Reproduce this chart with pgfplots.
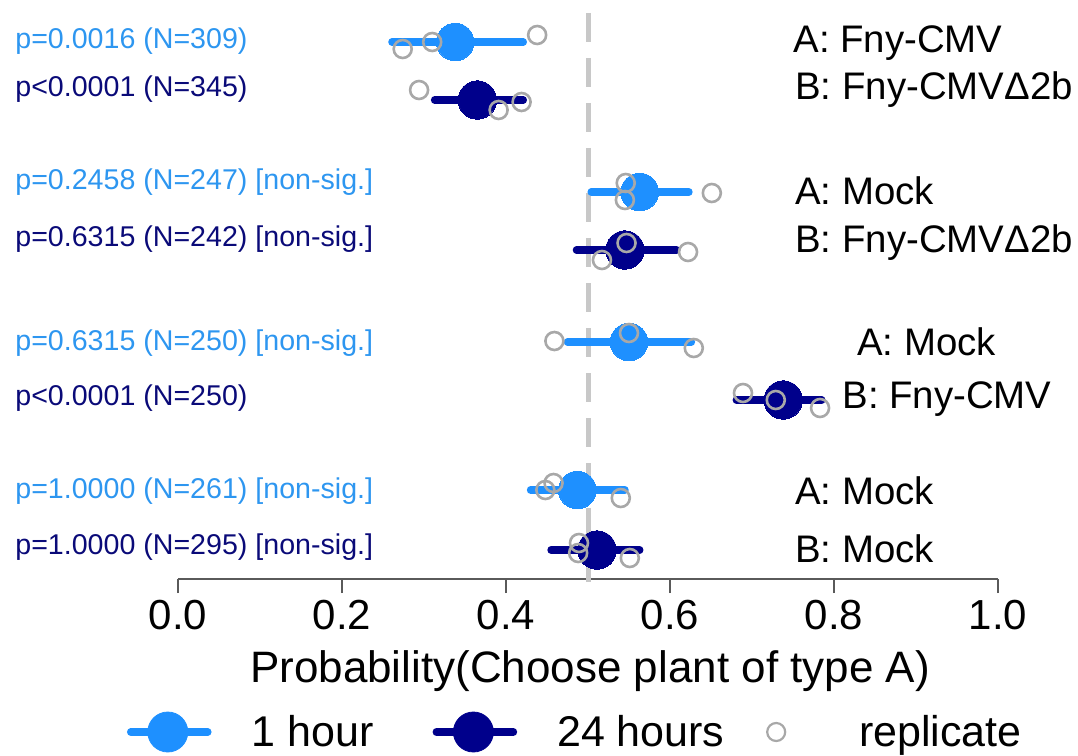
\documentclass[border=0pt]{standalone}
\usepackage{pgfplots}
\pgfplotsset{compat=1.18}
\usepackage{pgfplotstable}
\usepackage{fontspec}
\setmainfont{Liberation Sans}
\definecolor{lb}{RGB}{30,144,255}
\definecolor{db}{RGB}{0,0,139}
\definecolor{lbt}{RGB}{45,150,240}
\definecolor{dbt}{RGB}{10,10,120}
\definecolor{rep}{RGB}{168,168,168}
\definecolor{dashc}{RGB}{200,200,200}
\definecolor{axc}{RGB}{90,90,90}

\pgfplotstableread{
y x lo hi
-42 0.338 0.261 0.421
-192 0.563 0.504 0.623
-342 0.550 0.475 0.626
-490 0.487 0.430 0.545
}\hourtab

\pgfplotstableread{
y x lo hi
-100 0.365 0.313 0.421
-250 0.545 0.486 0.608
-400 0.738 0.681 0.785
-550 0.511 0.455 0.563
}\daytab

\pgfplotstableread{
x y
0.274 -49
0.310 -42
0.438 -35
0.294 -90
0.391 -110
0.419 -102
0.546 -183
0.545 -200
0.651 -193
0.547 -243
0.517 -260
0.622 -252
0.459 -341
0.550 -333
0.629 -348
0.689 -393
0.729 -400
0.783 -408
0.448 -490
0.458 -483
0.540 -498
0.489 -543
0.488 -553
0.551 -558
}\reptab

\pgfplotstableread{
x y
0.5 -13
0.5 -585
}\dashtab

\begin{document}
\begin{tikzpicture}
\begin{axis}[
  scale only axis, width=410pt, height=289.5pt,
  xmin=0, xmax=1, ymin=-579, ymax=0,
  axis x line*=bottom, axis y line=none,
  x axis line style={-, draw=axc, line width=0.8pt},
  xtick={0,0.2,0.4,0.6,0.8,1},
  /pgf/number format/assume math mode=true,
  xticklabel style={font=\fontsize{21}{21}\selectfont, /pgf/number format/.cd, fixed, fixed zerofill, precision=1},
  tick align=outside, major tick length=7pt,
  tick style={draw=axc, line width=0.8pt},
  ytick=\empty,
  clip=false,
  legend columns=3,
  legend style={at={(axis cs:-0.0622,-732)}, anchor=west, draw=none, fill=none,
    inner sep=0pt, outer sep=0pt,
    nodes={inner sep=0pt},
    font=\fontsize{21.5}{21.5}\selectfont,
    /tikz/every odd column/.append style={column sep=20pt},
    /tikz/every even column/.append style={column sep=0pt}},
  legend cell align=left,
]
\addlegendimage{legend image code/.code={\draw[lb, line width=3.8pt, line cap=round] (2pt,0pt) -- (40.5pt,0pt); \fill[lb] (20.5pt,0pt) circle (10pt);}}
\addlegendentry{\makebox[90.5pt][l]{1 hour}}
\addlegendimage{legend image code/.code={\draw[db, line width=3.8pt, line cap=round] (2pt,0pt) -- (40.5pt,0pt); \fill[db] (20.5pt,0pt) circle (10pt);}}
\addlegendentry{\makebox[88.5pt][l]{24 hours}}
\addlegendimage{legend image code/.code={\path[draw=none, fill=none] (0pt,0pt) rectangle (42.5pt,0.1pt); \draw[rep, line width=1.1pt, fill=none] (21pt,0pt) circle (4.5pt);}}
\addlegendentry{replicate}

% reference line at 0.5
\addplot[forget plot, dashc, line width=2.5pt, dash pattern=on 14.5pt off 8pt] table[x=x,y=y]{\dashtab};

% confidence intervals
\addplot[forget plot, only marks, mark=none, error bars/.cd, x dir=both, x explicit, error mark=none,
  error bar style={lb, line width=3.8pt, line cap=round}]
  table[x=x, y=y, x error plus expr=\thisrow{hi}-\thisrow{x}, x error minus expr=\thisrow{x}-\thisrow{lo}]{\hourtab};
\addplot[forget plot, only marks, mark=none, error bars/.cd, x dir=both, x explicit, error mark=none,
  error bar style={db, line width=3.8pt, line cap=round}]
  table[x=x, y=y, x error plus expr=\thisrow{hi}-\thisrow{x}, x error minus expr=\thisrow{x}-\thisrow{lo}]{\daytab};

% estimates
\addplot[forget plot, lb, only marks, mark=*, mark size=9.4pt, mark options={draw=lb, fill=lb, line width=0pt}] table[x=x,y=y]{\hourtab};
\addplot[forget plot, db, only marks, mark=*, mark size=9.6pt, mark options={draw=db, fill=db, line width=0pt}] table[x=x,y=y]{\daytab};

% replicates
\addplot[forget plot, rep, only marks, mark=o, mark size=4.5pt, mark options={draw=rep, line width=1.3pt, fill=none}] table[x=x,y=y]{\reptab};

% left labels
\begin{scope}[every node/.style={anchor=base west, inner sep=0pt, font=\fontsize{14.3}{14.3}\selectfont}]
\node[text=lbt] at (axis cs:-0.1988,-49) {p=0.0016 (N=309)};
\node[text=dbt] at (axis cs:-0.1988,-97) {p<0.0001 (N=345)};
\node[text=lbt] at (axis cs:-0.1988,-190) {p=0.2458 (N=247) [non-sig.]};
\node[text=dbt] at (axis cs:-0.1988,-247) {p=0.6315 (N=242) [non-sig.]};
\node[text=lbt] at (axis cs:-0.1988,-350) {p=0.6315 (N=250) [non-sig.]};
\node[text=dbt] at (axis cs:-0.1988,-405) {p<0.0001 (N=250)};
\node[text=lbt] at (axis cs:-0.1988,-498) {p=1.0000 (N=261) [non-sig.]};
\node[text=dbt] at (axis cs:-0.1988,-554) {p=1.0000 (N=295) [non-sig.]};
\end{scope}

% right labels
\begin{scope}[every node/.style={anchor=base west, inner sep=0pt, font=\fontsize{19.2}{19.2}\selectfont}]
\node at (axis cs:0.7500,-53) {A: Fny-CMV};
\node at (axis cs:0.7524,-100) {B: Fny-CMVΔ2b};
\node at (axis cs:0.7524,-205) {A: Mock};
\node at (axis cs:0.7524,-252) {B: Fny-CMVΔ2b};
\node at (axis cs:0.8280,-355) {A: Mock};
\node at (axis cs:0.8098,-408) {B: Fny-CMV};
\node at (axis cs:0.7524,-504) {A: Mock};
\node at (axis cs:0.7524,-562) {B: Mock};
\end{scope}

\node[anchor=base, inner sep=0pt, font=\fontsize{22}{22}\selectfont] at (axis cs:0.5025,-682) {Probability(Choose plant of type A)};

\coordinate (bbsw) at (axis cs:-0.21707,-755);
\coordinate (bbne) at (axis cs:1.09756,0);
\end{axis}
\pgfresetboundingbox
\useasboundingbox (bbsw) rectangle (bbne);
\end{tikzpicture}
\end{document}
